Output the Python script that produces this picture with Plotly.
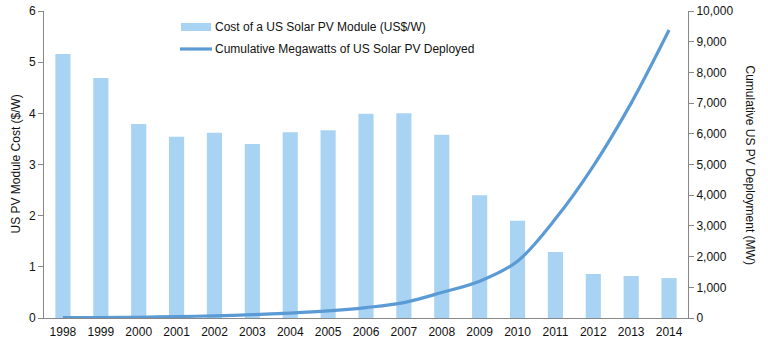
import plotly.graph_objects as go

years = ["1998", "1999", "2000", "2001", "2002", "2003", "2004", "2005", "2006",
         "2007", "2008", "2009", "2010", "2011", "2012", "2013", "2014"]
module_cost = [5.16, 4.69, 3.79, 3.54, 3.62, 3.40, 3.63, 3.67, 3.99,
               4.00, 3.58, 2.40, 1.90, 1.29, 0.86, 0.82, 0.78]
cumulative_mw = [10, 15, 25, 45, 70, 110, 160, 230, 340,
                 500, 830, 1200, 1850, 3230, 4950, 7000, 9380]
legend_labels = ["Cost of a US Solar PV Module (US$/W)",
                 "Cumulative Megawatts of US Solar PV Deployed"]

BAR_COLOR = "#A9D3F2"
LINE_COLOR = "#5B9BD5"
FONT = "Liberation Sans, Arial, sans-serif"
W, H = 768, 343
L, R, T, B = 44, 80, 11, 25
PW, PH = W - L - R, H - T - B


def px(x):
    return (x - L) / PW


def py(y):
    return (H - B - y) / PH


fig = go.Figure()
fig.add_trace(go.Bar(
    x=years, y=module_cost, name=legend_labels[0],
    marker=dict(color=BAR_COLOR, line=dict(width=0)), width=0.40,
    yaxis="y", showlegend=False))
fig.add_trace(go.Scatter(
    x=years, y=cumulative_mw, name=legend_labels[1],
    mode="lines", line=dict(color=LINE_COLOR, width=3.2, shape="spline", smoothing=0.9),
    yaxis="y2", showlegend=False))

shapes = [
    dict(type="rect", xref="paper", yref="paper", x0=px(181), x1=px(211),
         y0=py(31), y1=py(23), fillcolor=BAR_COLOR, line=dict(width=0)),
    dict(type="line", xref="paper", yref="paper", x0=px(180), x1=px(212),
         y0=py(49), y1=py(49), line=dict(color=LINE_COLOR, width=3.2)),
]
annotations = [
    dict(text=legend_labels[0], xref="paper", yref="paper", x=px(213), y=py(27),
         xanchor="left", yanchor="middle", showarrow=False, font=dict(size=12)),
    dict(text=legend_labels[1], xref="paper", yref="paper", x=px(213), y=py(49),
         xanchor="left", yanchor="middle", showarrow=False, font=dict(size=12)),
    dict(text="Cumulative US PV Deployment (MW)", textangle=90,
         xref="paper", yref="paper", x=px(750), y=0.5, xanchor="center",
         yanchor="middle", showarrow=False, font=dict(size=12)),
    dict(text="US PV Module Cost ($/W)", textangle=-90,
         xref="paper", yref="paper", x=px(15), y=0.5, xanchor="center",
         yanchor="middle", showarrow=False, font=dict(size=12)),
]

fig.update_layout(
    width=W, height=H,
    margin=dict(l=L, r=R, t=T, b=B, autoexpand=False),
    paper_bgcolor="white", plot_bgcolor="white",
    font=dict(family=FONT, size=12, color="#111"),
    showlegend=False,
    xaxis=dict(type="category", showline=True, linecolor="#888", linewidth=1,
               ticks="", showgrid=False, tickfont=dict(size=12),
               ticklabelstandoff=3, automargin=False),
    yaxis=dict(range=[0, 6], dtick=1, showline=True, linecolor="#888", linewidth=1,
               ticks="outside", ticklen=5, tickcolor="#888", showgrid=False,
               zeroline=False, tickfont=dict(size=12), automargin=False),
    yaxis2=dict(range=[0, 10000], dtick=1000, overlaying="y", side="right",
                showline=True, linecolor="#888", linewidth=1, ticks="outside",
                ticklen=5, tickcolor="#888", showgrid=False, zeroline=False,
                tickformat=",d", tickfont=dict(size=12), automargin=False),
    shapes=shapes,
    annotations=annotations,
)
fig.write_html("out.html")
